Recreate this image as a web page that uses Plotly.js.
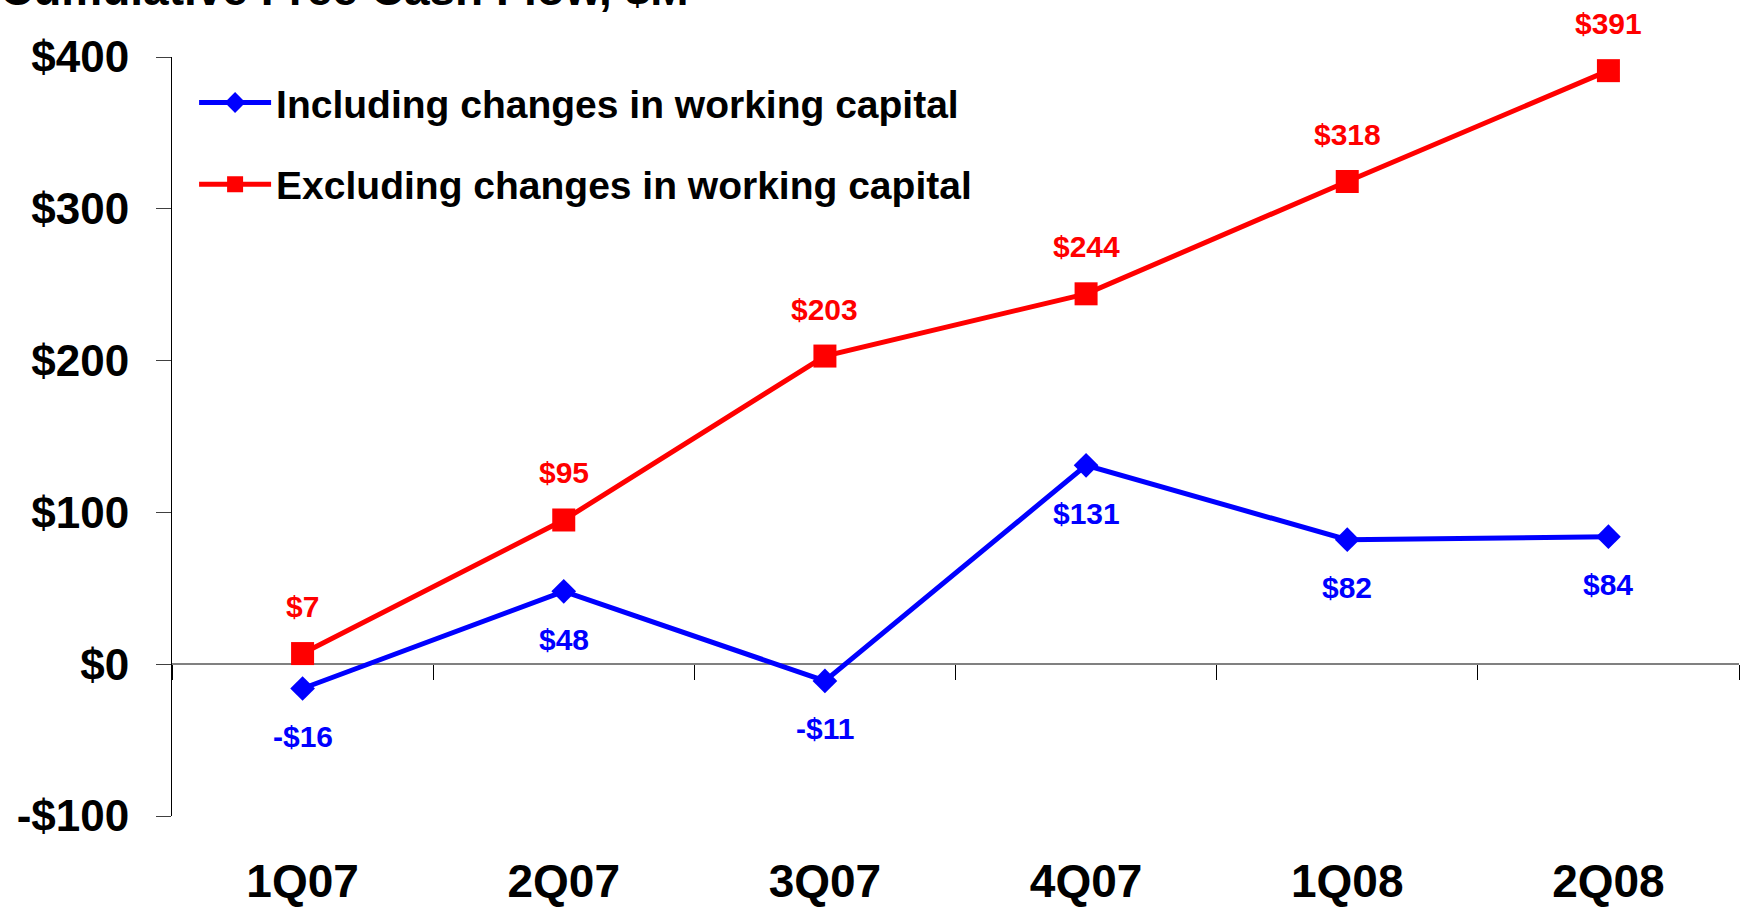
<!DOCTYPE html>
<html>
<head>
<meta charset="utf-8">
<script src="https://cdn.plot.ly/plotly-3.0.1.min.js"></script>
<style>
  html, body { margin: 0; padding: 0; background: #ffffff; }
  #chart { width: 1740px; height: 910px; }
</style>
</head>
<body>
<div id="chart"></div>
<script>
const categories = ['1Q07', '2Q07', '3Q07', '4Q07', '1Q08', '2Q08'];
const includingWC = [-16, 48, -11, 131, 82, 84];
const excludingWC = [7, 95, 203, 244, 318, 391];
const seriesNames = ['Including changes in working capital', 'Excluding changes in working capital'];
const yTickVals = [-100, 0, 100, 200, 300, 400];
const yTickText = ['-$100', '$0', '$100', '$200', '$300', '$400'];
const chartTitle = 'Cumulative Free Cash Flow, $M';

const BLUE = '#0000FF';
const RED = '#FF0000';
const ARIAL = 'Liberation Sans, Arial, sans-serif';

function fmt(v) { return (v < 0 ? '-$' : '$') + Math.abs(v); }

const traces = [
  {
    x: categories, y: includingWC, name: seriesNames[0],
    type: 'scatter', mode: 'lines+markers', xaxis: 'x2', yaxis: 'y',
    legendgroup: 'a',
    line: { color: BLUE, width: 5 },
    marker: { symbol: 'diamond', size: 19, color: BLUE }
  },
  {
    x: categories, y: excludingWC, name: seriesNames[1],
    type: 'scatter', mode: 'lines+markers', xaxis: 'x', yaxis: 'y',
    legendgroup: 'b',
    line: { color: RED, width: 5 },
    marker: { symbol: 'square', size: 23, color: RED }
  }
];

const annotations = [];
categories.forEach((c, i) => {
  annotations.push({
    x: c, y: excludingWC[i], xref: 'x', yref: 'y', text: fmt(excludingWC[i]),
    showarrow: false, yshift: 47,
    font: { family: ARIAL, size: 30, color: RED, weight: 'bold' }
  });
  annotations.push({
    x: c, y: includingWC[i], xref: 'x', yref: 'y', text: fmt(includingWC[i]),
    showarrow: false, yshift: -48,
    font: { family: ARIAL, size: 30, color: BLUE, weight: 'bold' }
  });
});

const layout = {
  width: 1740, height: 910,
  paper_bgcolor: '#ffffff', plot_bgcolor: '#ffffff',
  margin: { l: 172, r: 1, t: 57, b: 94, pad: 0 },
  showlegend: true,
  title: {
    text: chartTitle,
    font: { family: ARIAL, size: 46, color: '#000000', weight: 'bold' },
    xref: 'container', x: 0, xanchor: 'left',
    yref: 'container', y: 1 - 5 / 910, yanchor: 'bottom'
  },
  legend: {
    x: 0.0141, y: 0.982, xanchor: 'left', yanchor: 'top',
    xref: 'paper', yref: 'paper',
    bgcolor: 'rgba(0,0,0,0)',
    font: { family: ARIAL, size: 39, color: '#000000', weight: 'bold' },
    traceorder: 'grouped', tracegroupgap: 28,
    itemwidth: 72
  },
  xaxis: {
    type: 'category', categoryarray: categories, categoryorder: 'array',
    range: [-0.5, 5.5], showline: false, showgrid: false, zeroline: false,
    ticks: '', ticklabelstandoff: 34,
    tickfont: { family: ARIAL, size: 46, color: '#000000', weight: 'bold' },
    fixedrange: true
  },
  xaxis2: {
    type: 'category', categoryarray: categories, categoryorder: 'array',
    overlaying: 'x', anchor: 'free', position: 0.2,
    range: [-0.5, 5.5], showline: true, linecolor: '#808080', linewidth: 2,
    showgrid: false, zeroline: false,
    ticks: 'outside', tickson: 'boundaries', ticklen: 15, tickcolor: '#000000', tickwidth: 1,
    showticklabels: false, layer: 'below traces'
  },
  yaxis: {
    range: [-100, 400], tickvals: yTickVals, ticktext: yTickText,
    showline: true, linecolor: '#000000', linewidth: 1,
    ticks: 'outside', ticklen: 15, tickcolor: '#404040', tickwidth: 1,
    showgrid: false, zeroline: false, ticklabelstandoff: 18,
    tickfont: { family: ARIAL, size: 44, color: '#000000', weight: 'bold' },
    layer: 'below traces'
  },
  annotations: annotations
};

Plotly.newPlot('chart', traces, layout, { displayModeBar: false, staticPlot: true });
</script>
</body>
</html>
